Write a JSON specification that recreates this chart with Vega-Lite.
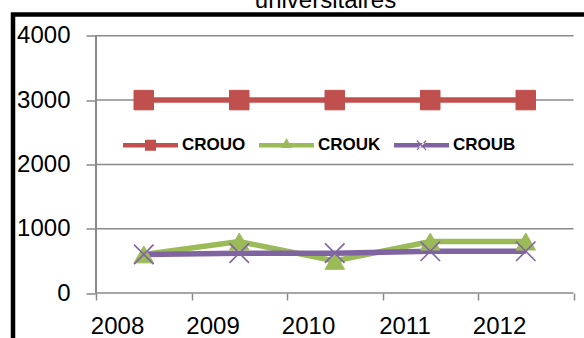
{
  "$schema": "https://vega.github.io/schema/vega-lite/v6.json",
  "width": 581,
  "height": 334,
  "autosize": {"type": "none"},
  "padding": {"left": 13, "top": 14.5, "right": -10, "bottom": -10},
  "background": "white",
  "config": {
    "view": {"stroke": "black", "strokeWidth": 4.5},
    "font": "Liberation Sans"
  },
  "data": {
    "values": [
      {"year": "2008", "series": "CROUO", "value": 3000},
      {"year": "2009", "series": "CROUO", "value": 3000},
      {"year": "2010", "series": "CROUO", "value": 3000},
      {"year": "2011", "series": "CROUO", "value": 3000},
      {"year": "2012", "series": "CROUO", "value": 3000},
      {"year": "2008", "series": "CROUK", "value": 600},
      {"year": "2009", "series": "CROUK", "value": 800},
      {"year": "2010", "series": "CROUK", "value": 500},
      {"year": "2011", "series": "CROUK", "value": 800},
      {"year": "2012", "series": "CROUK", "value": 800},
      {"year": "2008", "series": "CROUB", "value": 600},
      {"year": "2009", "series": "CROUB", "value": 620},
      {"year": "2010", "series": "CROUB", "value": 620},
      {"year": "2011", "series": "CROUB", "value": 650},
      {"year": "2012", "series": "CROUB", "value": 650}
    ]
  },
  "layer": [
    {
      "data": {"values": [{"g": 0}, {"g": 1000}, {"g": 2000}, {"g": 3000}, {"g": 4000}]},
      "mark": {"type": "rule", "color": "#8a8a8a", "strokeWidth": 1.5},
      "encoding": {
        "x": {"datum": "2008", "type": "ordinal", "bandPosition": 0},
        "x2": {"datum": "2012", "bandPosition": 1},
        "y": {"field": "g", "type": "quantitative"}
      }
    },
    {
      "mark": {"type": "rule", "color": "#8a8a8a", "strokeWidth": 1.5},
      "encoding": {
        "x": {"datum": "2008", "type": "ordinal", "bandPosition": 0},
        "y": {"datum": 0, "type": "quantitative"},
        "y2": {"datum": 4000}
      }
    },
    {
      "mark": {"type": "line", "strokeWidth": 5.5},
      "encoding": {
        "x": {
          "field": "year",
          "type": "ordinal",
          "scale": {
            "type": "band",
            "domain": ["2008", "2009", "2010", "2011", "2012"],
            "paddingInner": 0,
            "paddingOuter": 0.5419,
            "align": 0.802
          },
          "axis": {
            "orient": "bottom",
            "offset": -55.5,
            "domain": false,
            "tickBand": "extent",
            "tickSize": 7,
            "tickColor": "#8a8a8a",
            "tickWidth": 1.5,
            "labelFontSize": 24,
            "labelFont": "Liberation Sans",
            "labelColor": "black",
            "labelPadding": 26,
            "labelAngle": 0,
            "title": null,
            "grid": false
          }
        },
        "y": {
          "field": "value",
          "type": "quantitative",
          "scale": {"domain": [-863, 4331], "nice": false, "zero": false},
          "axis": {
            "orient": "left",
            "offset": -83,
            "domain": false,
            "values": [0, 1000, 2000, 3000, 4000],
            "format": "d",
            "tickSize": 10,
            "tickColor": "#8a8a8a",
            "tickWidth": 1.5,
            "labelFontSize": 24,
            "labelFont": "Liberation Sans",
            "labelColor": "black",
            "labelPadding": 16,
            "title": "universitaires",
            "titleAngle": 0,
            "titleX": 229,
            "titleY": -7.2,
            "titleAlign": "center",
            "titleBaseline": "alphabetic",
            "titleFontSize": 24,
            "titleFontWeight": "normal",
            "titleFont": "Liberation Sans",
            "titleColor": "black",
            "grid": false
          }
        },
        "color": {
          "field": "series",
          "type": "nominal",
          "scale": {
            "domain": ["CROUO", "CROUK", "CROUB"],
            "range": ["#C0504D", "#9BBB59", "#8064A2"]
          },
          "legend": {
            "orient": "none",
            "legendX": 110,
            "legendY": 103,
            "direction": "horizontal",
            "title": null,
            "symbolSize": 3025,
            "labelFontSize": 17,
            "labelFontWeight": "bold",
            "labelFont": "Liberation Sans",
            "labelColor": "black",
            "labelOffset": 4,
            "columnPadding": 13,
            "padding": 0,
            "encode": {
              "symbols": {
                "update": {
                  "shape": {"signal": "datum.value === 'CROUO' ? 'M-1,-0.08H1V0.08H-1Z M-0.2,-0.2H0.2V0.2H-0.2Z' : datum.value === 'CROUK' ? 'M-1,-0.08H1V0.08H-1Z M0,-0.26L0.2,0.1H-0.2Z' : 'M-1,-0.08H1V0.08H-1Z M-0.18,-0.15L-0.15,-0.18L0.18,0.15L0.15,0.18Z M0.18,-0.15L0.15,-0.18L-0.18,0.15L-0.15,0.18Z'"},
                  "fill": {"signal": "scale('color', datum.value)"},
                  "stroke": {"value": "transparent"},
                  "strokeWidth": {"value": 0},
                  "opacity": {"value": 1}
                }
              }
            }
          }
        }
      }
    },
    {
      "transform": [{"filter": "datum.series === 'CROUO'"}],
      "mark": {"type": "point", "shape": "square", "size": 380, "strokeWidth": 1, "opacity": 1},
      "encoding": {
        "x": {"field": "year", "type": "ordinal"},
        "y": {"field": "value", "type": "quantitative"},
        "fill": {"field": "series", "type": "nominal", "scale": {"domain": ["CROUO", "CROUK", "CROUB"], "range": ["#C0504D", "#9BBB59", "#8064A2"]}, "legend": null},
        "stroke": {"field": "series", "type": "nominal", "scale": {"domain": ["CROUO", "CROUK", "CROUB"], "range": ["#C0504D", "#9BBB59", "#8064A2"]}, "legend": null}
      }
    },
    {
      "transform": [{"filter": "datum.series === 'CROUK'"}],
      "mark": {"type": "point", "shape": "triangle-up", "size": 380, "strokeWidth": 1, "opacity": 1},
      "encoding": {
        "x": {"field": "year", "type": "ordinal"},
        "y": {"field": "value", "type": "quantitative"},
        "fill": {"field": "series", "type": "nominal", "legend": null},
        "stroke": {"field": "series", "type": "nominal", "legend": null}
      }
    },
    {
      "transform": [{"filter": "datum.series === 'CROUB'"}],
      "mark": {"type": "point", "shape": "M-1,-1L1,1M-1,1L1,-1", "size": 380, "strokeWidth": 1.6, "opacity": 1},
      "encoding": {
        "x": {"field": "year", "type": "ordinal"},
        "y": {"field": "value", "type": "quantitative"},
        "fill": {"field": "series", "type": "nominal", "legend": null},
        "stroke": {"field": "series", "type": "nominal", "legend": null}
      }
    }
  ]
}
